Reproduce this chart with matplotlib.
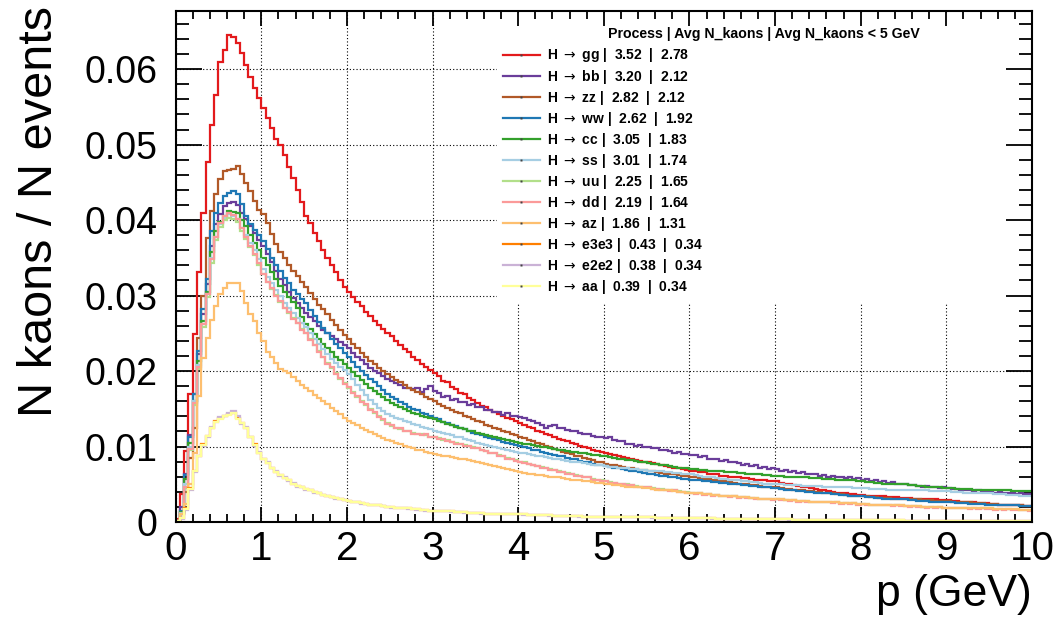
import numpy as np
import matplotlib
matplotlib.use("Agg")
import matplotlib.pyplot as plt
from matplotlib.lines import Line2D
from matplotlib.patches import Rectangle
from matplotlib.ticker import MultipleLocator, FuncFormatter

plt.rcParams['font.family'] = ['Liberation Sans', 'DejaVu Sans']

# momentum binning: 200 bins of 0.05 GeV
p_edges = np.linspace(0, 10, 201)

processes = ["gg", "bb", "zz", "ww", "cc", "ss", "uu", "dd", "az", "e3e3", "e2e2", "aa"]
avg_kaons = [3.52, 3.20, 2.82, 2.62, 3.05, 3.01, 2.25, 2.19, 1.86, 0.43, 0.38, 0.39]
avg_kaons_5gev = [2.78, 2.12, 2.12, 1.92, 1.83, 1.74, 1.65, 1.64, 1.31, 0.34, 0.34, 0.34]
colors = ["#e31a1c", "#6a3d9a", "#b15928", "#1f78b4", "#33a02c", "#a6cee3",
          "#b2df8a", "#fb9a99", "#fdbf6f", "#ff7f00", "#cab2d6", "#ffff99"]

# bin contents, N kaons / N events in units of 1e-4
h_gg = [4, 37, 94, 169, 249, 331, 410, 477, 526, 566, 610, 625, 645, 642, 635, 622, 605, 590, 575, 562,
        548, 535, 522, 508, 499, 486, 470, 456, 440, 424, 406, 396, 383, 372, 361, 350, 341, 331, 321, 312,
        305, 298, 291, 286, 278, 273, 266, 261, 256, 250, 246, 240, 235, 229, 225, 219, 215, 209, 206, 201,
        197, 193, 187, 185, 179, 176, 171, 169, 164, 161, 158, 154, 152, 148, 146, 143, 140, 138, 137, 134,
        131, 128, 126, 124, 121, 119, 117, 115, 113, 110, 109, 107, 105, 103, 101, 99, 98, 96, 94, 93,
        92, 90, 89, 88, 86, 85, 84, 82, 81, 80, 79, 78, 77, 75, 74, 73, 72, 71, 70, 69,
        68, 67, 66, 66, 64, 63, 63, 61, 61, 60, 60, 59, 58, 58, 57, 56, 56, 55, 54, 54,
        54, 52, 51, 50, 49, 48, 47, 46, 45, 44, 43, 42, 41, 40, 39, 38, 38, 37, 37, 36,
        36, 35, 35, 35, 34, 34, 33, 33, 33, 32, 32, 32, 31, 31, 31, 30, 30, 30, 29, 29,
        29, 28, 28, 27, 27, 26, 26, 25, 25, 25, 24, 24, 23, 23, 23, 22, 22, 22, 21, 21]
h_bb = [2, 20, 63, 115, 170, 222, 275, 315, 365, 395, 408, 418, 422, 424, 420, 410, 402, 392, 383, 374,
        365, 355, 344, 333, 322, 314, 305, 297, 290, 283, 277, 271, 266, 260, 255, 250, 246, 242, 238, 234,
        230, 224, 219, 214, 209, 204, 200, 197, 193, 190, 187, 184, 181, 178, 177, 176, 178, 172, 176, 180,
        174, 171, 166, 167, 162, 163, 159, 159, 155, 156, 153, 152, 149, 149, 146, 146, 142, 144, 140, 141,
        139, 138, 135, 134, 131, 128, 125, 127, 128, 125, 124, 122, 121, 121, 118, 117, 117, 114, 113, 112,
        111, 112, 108, 107, 107, 104, 104, 101, 102, 99, 99, 98, 98, 95, 95, 94, 92, 93, 90, 90,
        89, 89, 86, 87, 84, 84, 83, 81, 82, 79, 79, 78, 76, 77, 74, 75, 72, 73, 70, 71,
        70, 68, 69, 66, 67, 65, 66, 63, 64, 63, 61, 62, 60, 61, 59, 60, 58, 59, 57, 58,
        56, 57, 54, 55, 53, 54, 52, 53, 50, 51, 50, 49, 49, 48, 47, 48, 46, 47, 45, 46,
        45, 44, 44, 43, 42, 43, 41, 42, 40, 41, 40, 39, 40, 38, 39, 38, 37, 38, 37, 37]
h_zz = [1, 12, 40, 85, 125, 244, 300, 376, 412, 435, 455, 465, 467, 468, 471, 461, 449, 438, 425, 414,
        408, 396, 381, 368, 358, 350, 340, 333, 326, 318, 312, 304, 296, 288, 282, 276, 268, 261, 254, 248,
        242, 236, 230, 224, 218, 213, 209, 204, 200, 196, 192, 188, 185, 181, 178, 175, 172, 169, 166, 163,
        160, 157, 154, 151, 149, 146, 144, 141, 139, 136, 134, 132, 129, 127, 125, 123, 121, 119, 117, 115,
        113, 111, 109, 107, 105, 103, 101, 99, 97, 95, 93, 92, 90, 88, 87, 85, 84, 82, 80, 79,
        77, 76, 75, 74, 73, 72, 71, 70, 69, 69, 68, 67, 66, 65, 64, 64, 63, 62, 61, 61,
        60, 59, 58, 57, 57, 56, 55, 54, 54, 53, 52, 51, 51, 50, 49, 49, 48, 47, 47, 46,
        46, 45, 44, 44, 43, 42, 42, 41, 41, 40, 40, 39, 38, 38, 37, 37, 36, 35, 35, 34,
        34, 34, 33, 33, 32, 32, 32, 31, 31, 31, 31, 30, 30, 30, 29, 29, 29, 28, 28, 28,
        28, 27, 27, 26, 26, 26, 25, 25, 25, 24, 24, 24, 23, 23, 23, 22, 22, 22, 21, 21]
h_ww = [2, 14, 62, 112, 170, 226, 282, 322, 385, 410, 423, 432, 436, 438, 434, 421, 405, 395, 387, 380,
        372, 362, 350, 340, 332, 323, 316, 308, 302, 296, 290, 281, 273, 265, 257, 250, 243, 236, 230, 224,
        218, 212, 206, 200, 195, 190, 185, 180, 175, 170, 166, 163, 159, 156, 153, 150, 148, 145, 143, 140,
        138, 136, 133, 131, 129, 127, 125, 123, 121, 118, 116, 115, 113, 111, 110, 108, 106, 105, 103, 102,
        101, 99, 98, 96, 95, 93, 92, 90, 89, 88, 87, 85, 84, 83, 81, 80, 79, 77, 76, 75,
        74, 73, 72, 71, 70, 69, 68, 67, 66, 65, 64, 63, 62, 61, 61, 60, 59, 58, 57, 57,
        56, 55, 55, 54, 54, 53, 53, 52, 52, 51, 51, 50, 49, 49, 48, 48, 47, 46, 46, 45,
        45, 44, 43, 43, 42, 41, 41, 40, 40, 39, 39, 38, 38, 37, 37, 36, 36, 35, 35, 34,
        34, 33, 33, 32, 32, 31, 31, 30, 30, 30, 30, 29, 29, 28, 28, 28, 27, 27, 27, 26,
        26, 26, 25, 25, 25, 24, 24, 24, 24, 23, 23, 23, 23, 22, 22, 22, 22, 21, 21, 21]
h_cc = [2, 13, 57, 105, 160, 213, 266, 305, 358, 385, 398, 406, 412, 411, 410, 400, 392, 380, 370, 360,
        350, 340, 331, 322, 313, 305, 298, 291, 283, 272, 262, 256, 249, 243, 236, 230, 225, 219, 214, 209,
        204, 199, 193, 188, 183, 178, 174, 169, 165, 161, 158, 155, 152, 150, 147, 145, 143, 141, 139, 138,
        136, 134, 132, 130, 128, 126, 125, 123, 121, 120, 118, 117, 115, 114, 112, 111, 110, 108, 107, 106,
        105, 104, 103, 102, 101, 100, 99, 98, 97, 96, 95, 94, 93, 93, 92, 91, 90, 89, 89, 88,
        87, 86, 85, 84, 83, 82, 82, 81, 80, 79, 78, 77, 77, 76, 75, 74, 73, 72, 72, 71,
        70, 70, 69, 69, 68, 68, 67, 67, 66, 66, 66, 65, 65, 64, 64, 63, 63, 62, 62, 61,
        61, 61, 60, 60, 60, 59, 59, 59, 58, 58, 58, 57, 57, 57, 56, 56, 55, 55, 55, 54,
        54, 53, 53, 52, 52, 51, 51, 50, 50, 50, 50, 49, 49, 48, 48, 47, 47, 46, 46, 45,
        45, 45, 44, 44, 44, 44, 43, 43, 43, 43, 43, 42, 42, 42, 42, 41, 41, 41, 41, 41]
h_ss = [2, 12, 50, 100, 160, 208, 262, 302, 350, 378, 395, 403, 408, 406, 402, 390, 380, 370, 360, 348,
        335, 325, 317, 308, 299, 290, 283, 277, 270, 264, 258, 250, 243, 236, 229, 222, 216, 211, 206, 201,
        196, 189, 182, 175, 168, 161, 156, 151, 147, 143, 140, 138, 136, 134, 132, 130, 128, 126, 124, 123,
        121, 119, 118, 116, 115, 113, 112, 110, 108, 107, 105, 104, 102, 101, 100, 98, 97, 96, 94, 93,
        92, 91, 90, 89, 88, 87, 86, 85, 84, 83, 82, 81, 80, 80, 79, 78, 77, 76, 76, 75,
        74, 73, 73, 72, 71, 71, 70, 70, 69, 69, 68, 68, 67, 67, 66, 66, 65, 65, 64, 64,
        63, 62, 61, 60, 60, 59, 58, 57, 57, 56, 56, 55, 54, 54, 53, 53, 52, 51, 51, 50,
        50, 50, 49, 49, 49, 49, 48, 48, 48, 48, 48, 47, 47, 47, 46, 46, 46, 46, 45, 45,
        45, 45, 44, 44, 44, 44, 43, 43, 43, 43, 43, 42, 42, 42, 42, 42, 41, 41, 41, 41,
        41, 40, 40, 40, 39, 39, 39, 39, 38, 38, 38, 37, 37, 37, 36, 36, 36, 35, 35, 35]
h_uu = [2, 10, 45, 95, 155, 203, 258, 298, 343, 373, 391, 400, 403, 402, 397, 386, 375, 364, 354, 341,
        328, 318, 309, 301, 292, 284, 277, 270, 263, 256, 250, 242, 234, 226, 218, 210, 204, 197, 190, 184,
        178, 172, 166, 160, 155, 150, 145, 140, 135, 131, 127, 125, 123, 121, 120, 118, 117, 116, 115, 113,
        112, 111, 109, 108, 106, 105, 103, 102, 101, 99, 98, 96, 94, 92, 91, 89, 87, 85, 84, 82,
        80, 79, 77, 76, 74, 73, 71, 70, 69, 67, 66, 65, 63, 62, 61, 60, 59, 57, 56, 55,
        54, 53, 52, 51, 50, 50, 49, 48, 47, 47, 46, 45, 44, 44, 43, 42, 42, 41, 40, 40,
        39, 38, 38, 37, 37, 36, 36, 35, 35, 34, 34, 33, 33, 33, 32, 32, 31, 31, 31, 30,
        30, 30, 29, 29, 29, 28, 28, 28, 27, 27, 27, 27, 26, 26, 26, 25, 25, 25, 25, 24,
        24, 24, 23, 23, 23, 23, 22, 22, 22, 22, 21, 21, 21, 21, 20, 20, 20, 20, 20, 19,
        19, 19, 19, 19, 18, 18, 18, 18, 18, 18, 18, 17, 17, 17, 17, 17, 17, 16, 16, 16]
h_dd = [2, 11, 47, 97, 158, 206, 262, 302, 348, 378, 396, 405, 410, 407, 401, 389, 377, 366, 355, 343,
        329, 318, 310, 300, 293, 283, 278, 269, 264, 255, 250, 241, 235, 225, 219, 209, 205, 196, 191, 183,
        179, 171, 167, 159, 156, 149, 146, 139, 136, 130, 128, 124, 124, 120, 121, 117, 117, 115, 116, 112,
        113, 110, 110, 107, 106, 104, 103, 101, 101, 98, 98, 95, 94, 91, 91, 88, 87, 84, 84, 81,
        80, 78, 77, 75, 74, 72, 71, 69, 69, 66, 66, 64, 63, 61, 61, 59, 59, 56, 56, 54,
        54, 52, 52, 50, 50, 49, 49, 47, 47, 46, 46, 44, 44, 43, 43, 41, 42, 40, 40, 39,
        39, 37, 38, 36, 37, 35, 36, 34, 35, 33, 34, 32, 33, 32, 32, 31, 31, 30, 31, 29,
        30, 29, 29, 28, 29, 27, 28, 27, 27, 26, 27, 26, 26, 25, 26, 24, 25, 24, 25, 23,
        24, 23, 23, 22, 23, 22, 22, 21, 22, 21, 21, 20, 21, 20, 20, 19, 20, 19, 20, 18,
        19, 18, 19, 18, 18, 17, 18, 17, 18, 17, 17, 16, 17, 16, 17, 16, 16, 16, 16, 15]
h_az = [2, 10, 24, 50, 92, 167, 217, 244, 268, 286, 302, 310, 317, 317, 316, 306, 290, 275, 266, 251,
        240, 225, 218, 211, 203, 200, 197, 192, 187, 182, 178, 173, 168, 164, 160, 156, 151, 147, 143, 138,
        134, 131, 128, 125, 122, 119, 116, 114, 111, 109, 107, 105, 103, 101, 100, 98, 96, 95, 93, 92,
        90, 89, 88, 87, 86, 85, 84, 83, 82, 81, 80, 78, 77, 76, 74, 73, 72, 70, 69, 68,
        66, 65, 64, 63, 62, 62, 61, 60, 59, 59, 58, 57, 56, 56, 55, 54, 54, 53, 52, 52,
        51, 50, 49, 49, 48, 47, 47, 46, 46, 45, 45, 44, 43, 43, 42, 42, 41, 40, 40, 39,
        39, 38, 38, 37, 37, 36, 36, 35, 35, 34, 34, 33, 33, 33, 32, 32, 31, 31, 31, 30,
        30, 30, 29, 29, 29, 28, 28, 28, 27, 27, 27, 27, 26, 26, 26, 25, 25, 25, 25, 24,
        24, 24, 23, 23, 23, 23, 22, 22, 22, 22, 21, 21, 21, 21, 20, 20, 20, 20, 20, 19,
        19, 19, 19, 19, 18, 18, 18, 18, 18, 18, 18, 17, 17, 17, 17, 17, 17, 16, 16, 16]
h_e3e3 = [1, 5, 18, 45, 68, 88, 103, 114, 125, 134, 138, 140, 143, 145, 138, 131, 125, 112, 103, 92,
          84, 78, 72, 66, 62, 58, 55, 51, 48, 46, 44, 42, 40, 38, 36, 35, 33, 32, 31, 29,
          28, 27, 26, 25, 24, 23, 23, 22, 21, 20, 20, 19, 19, 18, 18, 17, 17, 16, 16, 15,
          15, 15, 14, 14, 14, 13, 13, 13, 12, 12, 12, 12, 11, 11, 11, 11, 10, 10, 10, 10,
          10, 10, 9, 9, 9, 9, 9, 9, 8, 8, 8, 8, 8, 8, 8, 7, 7, 7, 7, 7,
          7, 7, 7, 6, 6, 6, 6, 6, 6, 6, 6, 6, 5, 5, 5, 5, 5, 5, 5, 5,
          5, 5, 5, 5, 5, 5, 4, 4, 4, 4, 4, 4, 4, 4, 4, 4, 4, 4, 4, 4,
          4, 4, 4, 4, 3, 3, 3, 3, 3, 3, 3, 3, 3, 3, 3, 3, 3, 3, 3, 3,
          3, 3, 3, 3, 3, 3, 3, 3, 3, 3, 2, 2, 2, 2, 2, 2, 2, 2, 2, 2,
          2, 2, 2, 2, 2, 2, 2, 2, 2, 2, 2, 2, 2, 2, 2, 2, 2, 2, 2, 2]
h_e2e2 = [1, 4, 16, 43, 66, 87, 101, 113, 126, 133, 139, 141, 144, 147, 140, 130, 126, 113, 101, 93,
          83, 79, 71, 67, 61, 59, 54, 52, 47, 46, 43, 42, 39, 38, 36, 34, 33, 31, 31, 29,
          28, 26, 26, 24, 24, 23, 22, 22, 21, 20, 19, 19, 18, 18, 17, 17, 16, 16, 15, 15,
          15, 14, 14, 14, 13, 13, 13, 12, 12, 12, 12, 11, 11, 11, 11, 10, 10, 10, 10, 10,
          10, 9, 9, 9, 9, 9, 9, 8, 8, 8, 8, 8, 8, 8, 7, 7, 7, 7, 7, 7,
          7, 7, 6, 6, 6, 6, 6, 6, 6, 6, 6, 5, 5, 5, 5, 5, 5, 5, 5, 5,
          5, 5, 5, 5, 5, 4, 4, 4, 4, 4, 4, 4, 4, 4, 4, 4, 4, 4, 4, 4,
          4, 4, 4, 3, 3, 3, 3, 3, 3, 3, 3, 3, 3, 3, 3, 3, 3, 3, 3, 3,
          3, 3, 3, 3, 3, 3, 3, 3, 3, 2, 2, 2, 2, 2, 2, 2, 2, 2, 2, 2,
          2, 2, 2, 2, 2, 2, 2, 2, 2, 2, 2, 2, 2, 2, 2, 2, 2, 2, 2, 2]
h_aa = [1, 5, 17, 44, 67, 88, 102, 114, 124, 133, 137, 140, 142, 144, 137, 131, 124, 112, 102, 91,
        84, 78, 72, 66, 62, 58, 55, 51, 48, 46, 44, 42, 40, 38, 36, 35, 33, 32, 31, 29,
        28, 27, 26, 25, 24, 23, 23, 22, 21, 20, 20, 19, 19, 18, 18, 17, 17, 16, 16, 15,
        15, 15, 14, 14, 14, 13, 13, 13, 12, 12, 12, 12, 11, 11, 11, 11, 10, 10, 10, 10,
        10, 10, 9, 9, 9, 9, 9, 9, 8, 8, 8, 8, 8, 8, 8, 7, 7, 7, 7, 7,
        7, 7, 7, 6, 6, 6, 6, 6, 6, 6, 6, 6, 5, 5, 5, 5, 5, 5, 5, 5,
        5, 5, 5, 5, 5, 5, 4, 4, 4, 4, 4, 4, 4, 4, 4, 4, 4, 4, 4, 4,
        4, 4, 4, 4, 3, 3, 3, 3, 3, 3, 3, 3, 3, 3, 3, 3, 3, 3, 3, 3,
        3, 3, 3, 3, 3, 3, 3, 3, 3, 3, 2, 2, 2, 2, 2, 2, 2, 2, 2, 2,
        2, 2, 2, 2, 2, 2, 2, 2, 2, 2, 2, 2, 2, 2, 2, 2, 2, 2, 2, 2]

hists = [h_gg, h_bb, h_zz, h_ww, h_cc, h_ss, h_uu, h_dd, h_az, h_e3e3, h_e2e2, h_aa]


def main():
    fig = plt.figure(figsize=(10.58, 6.21), dpi=100)
    rect = [0.166, 0.1594, 0.8094, 0.8229]

    # grid lives on its own axes underneath so the legend box hides it but not the ticks
    ax_grid = fig.add_axes(rect, zorder=0)
    ax = fig.add_axes(rect, zorder=1, sharex=ax_grid, sharey=ax_grid)
    ax.patch.set_visible(False)

    for name, h, c in zip(processes, hists, colors):
        ax.stairs(np.array(h) * 1e-4, p_edges, color=c, lw=1.6, baseline=None, zorder=2)

    ax.set_xlim(0, 10)
    ax.set_ylim(0, 0.0677)
    ax.xaxis.set_major_locator(MultipleLocator(1))
    ax.xaxis.set_minor_locator(MultipleLocator(0.2))
    ax.yaxis.set_major_locator(MultipleLocator(0.01))
    ax.yaxis.set_minor_locator(MultipleLocator(0.002))
    ax.yaxis.set_major_formatter(FuncFormatter(lambda v, pos: "%g" % round(v, 4)))

    ax_grid.grid(True, which='major', color='k', lw=0.8, ls=(0, (1, 2)))
    ax_grid.tick_params(which='both', length=0, labelbottom=False, labelleft=False)
    for s in ax_grid.spines.values():
        s.set_visible(False)

    for s in ax.spines.values():
        s.set_linewidth(1.5)
    ax.tick_params(which='both', direction='in', top=True, right=True, width=1.3)
    ax.tick_params(axis='x', which='major', length=11, labelsize=29, pad=6)
    ax.tick_params(axis='x', which='minor', length=6)
    ax.tick_params(axis='y', which='major', length=19, labelsize=27, pad=13)
    ax.tick_params(axis='y', which='minor', length=9.5)

    ax.set_xlabel("p (GeV)", fontsize=32, loc='right')
    ax.xaxis.set_label_coords(1.0, -0.102)
    ax.set_ylabel("N kaons / N events", fontsize=35, loc='top')
    ax.yaxis.set_label_coords(-0.1325, 1.01)

    # white legend box covering the grid
    ax.add_patch(Rectangle((0.3754, 0.4286), 0.62, 0.566, transform=ax.transAxes,
                           facecolor='white', edgecolor='none', zorder=1))

    handles = [Line2D([], [], color=c, lw=1.6, marker='s', ms=1.5, mfc='#444444', mec='none')
               for c in colors]
    labels = ["H $\\rightarrow$ %s |  %.2f  |  %.2f" % (n, a, b)
              for n, a, b in zip(processes, avg_kaons, avg_kaons_5gev)]
    ax.legend(handles, labels, loc='upper left', bbox_to_anchor=(503 / 1058, 1 - 46.5 / 621),
              bbox_transform=fig.transFigure, frameon=False, borderpad=0, borderaxespad=0,
              handlelength=2.66, handletextpad=0.5, labelspacing=0.22, numpoints=1,
              prop={'size': 10, 'weight': 'bold'})
    fig.text(608 / 1058, 1 - 34 / 621, "Process | Avg N_kaons | Avg N_kaons < 5 GeV",
             fontsize=10.2, fontweight='bold', va='center', ha='left')

    fig.savefig("out.png", dpi=100)


if __name__ == "__main__":
    main()
